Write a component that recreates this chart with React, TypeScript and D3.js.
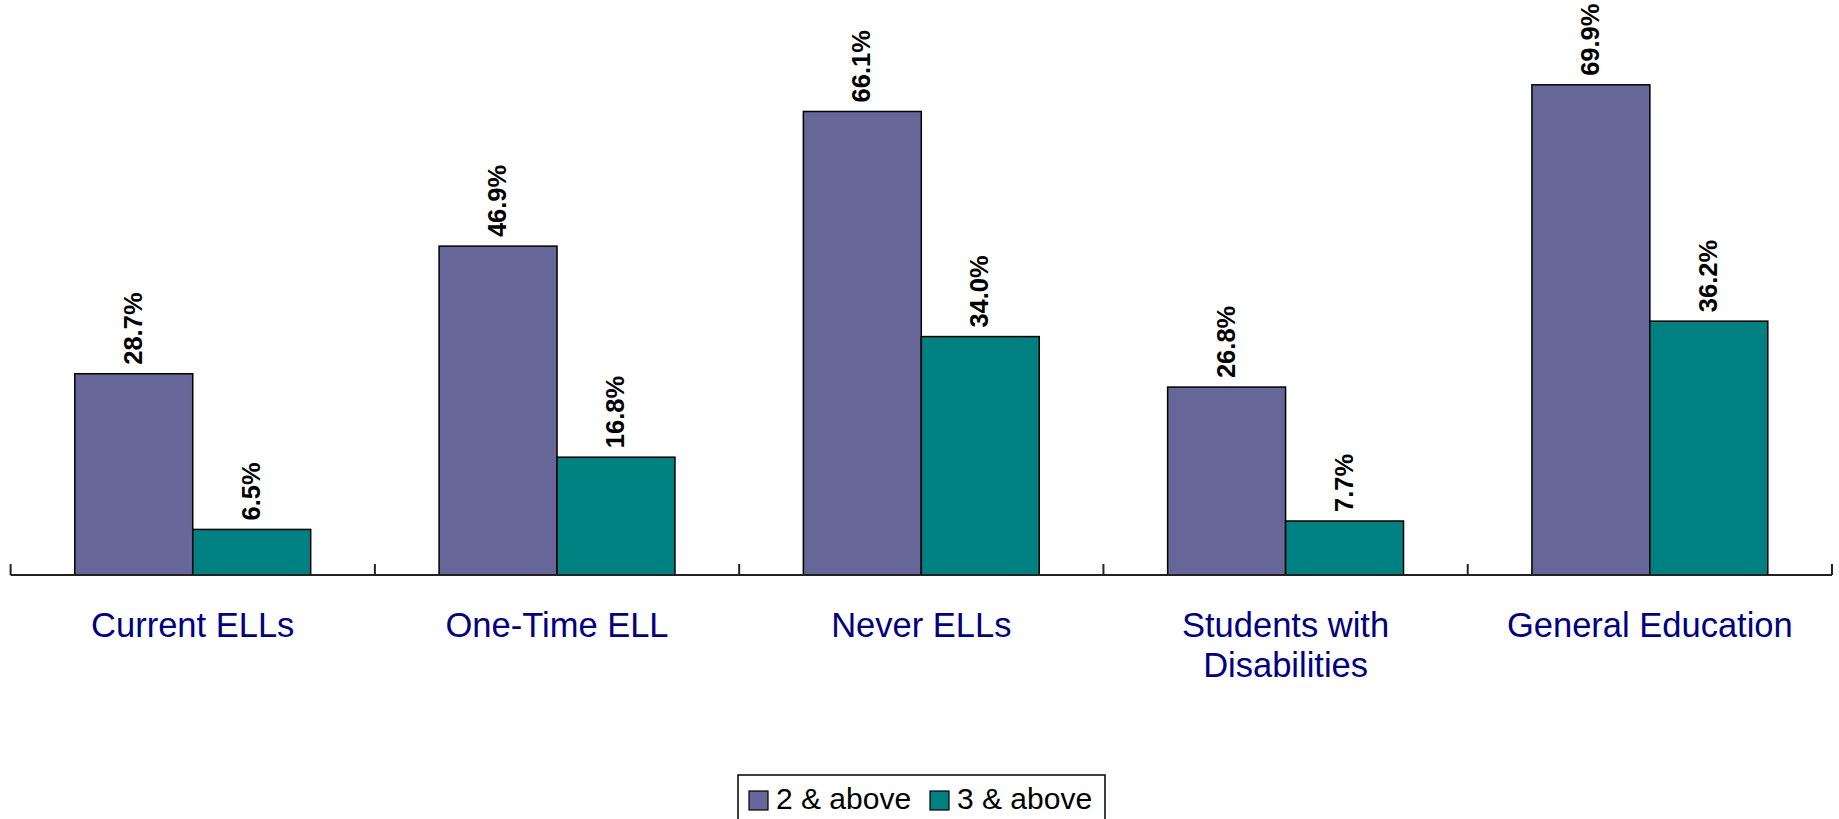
import React from "react";
import * as d3 from "d3";

const categories: string[][] = [
  ["Current ELLs"],
  ["One-Time ELL"],
  ["Never ELLs"],
  ["Students with", "Disabilities"],
  ["General Education"],
];
const seriesNames = ["2 & above", "3 & above"];
const twoAndAbove = [28.7, 46.9, 66.1, 26.8, 69.9];
const threeAndAbove = [6.5, 16.8, 34.0, 7.7, 36.2];
const seriesColors = ["#666699", "#008080"];

const W = 1839;
const H = 819;
const FONT = "'Liberation Sans', Arial, Helvetica, sans-serif";

export default function App() {
  const keys = categories.map((_, i) => String(i));
  const x = d3.scaleBand<string>().domain(keys).range([10.6, 1832]).padding(0);
  const bw = x.bandwidth();
  const xs = d3
    .scaleBand<string>()
    .domain(seriesNames)
    .range([64.2, bw - 64.2])
    .padding(0);
  const y = d3.scaleLinear().domain([0, 80]).range([575, 14]);
  const values = [twoAndAbove, threeAndAbove];

  const ticks = d3.range(categories.length + 1).map((i) => 10.6 + i * bw);

  return (
    <svg
      width={W}
      height={H}
      style={{ position: "absolute", left: 0, top: 0, background: "#fff" }}
      fontFamily={FONT}
    >
      {values.map((vals, s) =>
        vals.map((v, i) => {
          const bx = (x(String(i)) as number) + (xs(seriesNames[s]) as number);
          const top = y(v);
          return (
            <g key={`${s}-${i}`}>
              <rect
                x={bx}
                y={top}
                width={xs.bandwidth()}
                height={y(0) - top}
                fill={seriesColors[s]}
                stroke="#000"
                strokeWidth={1.5}
              />
              <text
                transform={`translate(${bx + xs.bandwidth() / 2 + 8},${top - 9}) rotate(-90)`}
                fontSize={25.5}
                fontWeight="bold"
                fill="#000"
                textAnchor="start"
              >
                {v.toFixed(1) + "%"}
              </text>
            </g>
          );
        })
      )}
      <line x1={10.6} x2={1832} y1={575} y2={575} stroke="#222" strokeWidth={2} />
      {ticks.map((tx, i) => (
        <line key={i} x1={tx} x2={tx} y1={575} y2={564} stroke="#222" strokeWidth={2} />
      ))}
      {categories.map((lines, i) => (
        <text
          key={i}
          x={(x(String(i)) as number) + bw / 2}
          y={637}
          textAnchor="middle"
          fontSize={34.5}
          fill="#000080"
        >
          {lines.map((l, j) => (
            <tspan key={j} x={(x(String(i)) as number) + bw / 2} dy={j === 0 ? 0 : 40}>
              {l}
            </tspan>
          ))}
        </text>
      ))}
      <rect x={738} y={775} width={367} height={60} fill="#fff" stroke="#000" strokeWidth={1.5} />
      {seriesNames.map((n, s) => {
        const sx = s === 0 ? 749 : 930;
        return (
          <g key={n}>
            <rect x={sx} y={791} width={19} height={19} fill={seriesColors[s]} stroke="#000" strokeWidth={1.2} />
            <text x={sx + 27} y={809} fontSize={30} fill="#000">
              {n}
            </text>
          </g>
        );
      })}
    </svg>
  );
}
